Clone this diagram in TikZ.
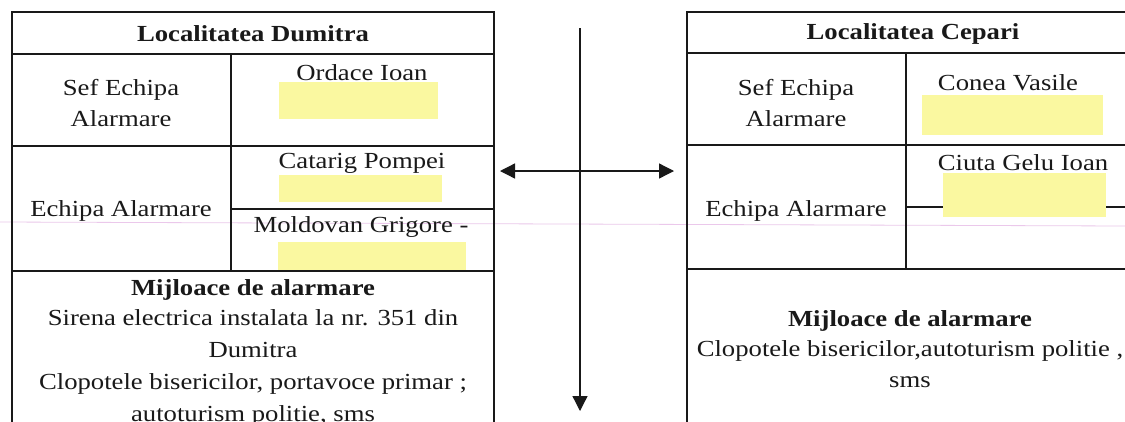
\documentclass[tikz,border=0pt]{standalone}
\usepackage{fontspec}
\setmainfont{Liberation Serif}[FakeStretch=1.16]
\usetikzlibrary{arrows.meta}
\definecolor{hl}{RGB}{250,248,160}
\definecolor{ink}{RGB}{25,25,25}
\definecolor{scanpink}{RGB}{235,200,235}
\tikzset{
  grid/.style={draw=ink, line width=1.4pt},
  hlbox/.style={fill=hl, draw=none},
  txt/.style={inner sep=0pt, text=ink, font=\fontsize{23}{30.5}\selectfont, align=center},
  btxt/.style={txt, font=\fontsize{23}{30.5}\selectfont\bfseries},
  arr/.style={draw=ink, line width=1.3pt, -{Triangle[width=15pt,length=15pt]}},
  darr/.style={draw=ink, line width=1.3pt, {Triangle[width=15pt,length=15pt]}-{Triangle[width=15pt,length=15pt]}}
}
\begin{document}
\begin{tikzpicture}[x=1pt,y=-1pt]
\useasboundingbox (0,0) rectangle (1125,421);
\clip (0,0) rectangle (1125,421);
\fill[white] (0,0) rectangle (1125,421);
% scan artefact
\draw[scanpink, line width=0.8pt] (0,222) -- (1125,226);
% ---------- left table ----------
\fill[hlbox] (279,82) rectangle (438,119);
\fill[hlbox] (279,175) rectangle (442,202);
\fill[hlbox] (278,242) rectangle (466,270);
\draw[grid] (12,430) -- (12,12) -- (494,12) -- (494,430);
\draw[grid] (12,54) -- (494,54);
\draw[grid] (12,146) -- (494,146);
\draw[grid] (12,271) -- (494,271);
\draw[grid] (231,54) -- (231,271);
\draw[grid] (231,209) -- (494,209);
\node[btxt] (lhead) at (253,34) {Localitatea Dumitra};
\node[txt] (lsef) at (121,103) {Sef Echipa\\Alarmare};
\node[txt] (lord) at (362,73) {Ordace Ioan};
\node[txt] (lcat) at (362,163) {Catarig Pompei};
\node[txt] (lech) at (121,211) {Echipa Alarmare};
\node[txt] (lmol) at (361,227) {Moldovan Grigore -};
\node[btxt] (lmij) at (253,290) {Mijloace de alarmare};
\node[txt, anchor=north, font=\fontsize{23}{32}\selectfont] (lmijtxt) at (253,309) {Sirena electrica instalata la nr. 351 din\\Dumitra\\Clopotele bisericilor, portavoce primar ;\\autoturism politie, sms};
% ---------- right table ----------
\draw[grid] (906,207) -- (1125,207);
\fill[hlbox] (922,95) rectangle (1103,135);
\fill[hlbox] (943,173) rectangle (1106,217);
\draw[grid] (687,430) -- (687,12) -- (1130,12);
\draw[grid] (687,53) -- (1130,53);
\draw[grid] (687,145) -- (1130,145);
\draw[grid] (687,269) -- (1130,269);
\draw[grid] (906,53) -- (906,269);
\node[btxt] (rhead) at (913,34) {Localitatea Cepari};
\node[txt] (rsef) at (796,103) {Sef Echipa\\Alarmare};
\node[txt] (rcon) at (1008,83) {Conea Vasile};
\node[txt] (rciu) at (1023,163) {Ciuta Gelu Ioan};
\node[txt] (rech) at (796,211) {Echipa Alarmare};
\node[txt] (rmij) at (910,349) {\textbf{Mijloace de alarmare}\\Clopotele bisericilor,autoturism politie ,\\sms};
% ---------- arrows ----------
\coordinate (vtop) at (580,28);
\coordinate (vbot) at (580,411);
\coordinate (hl) at (500,171);
\coordinate (hr) at (674,171);
\draw[arr] (vtop) -- (vbot);
\draw[darr] (hl) -- (hr);
\end{tikzpicture}
\end{document}
